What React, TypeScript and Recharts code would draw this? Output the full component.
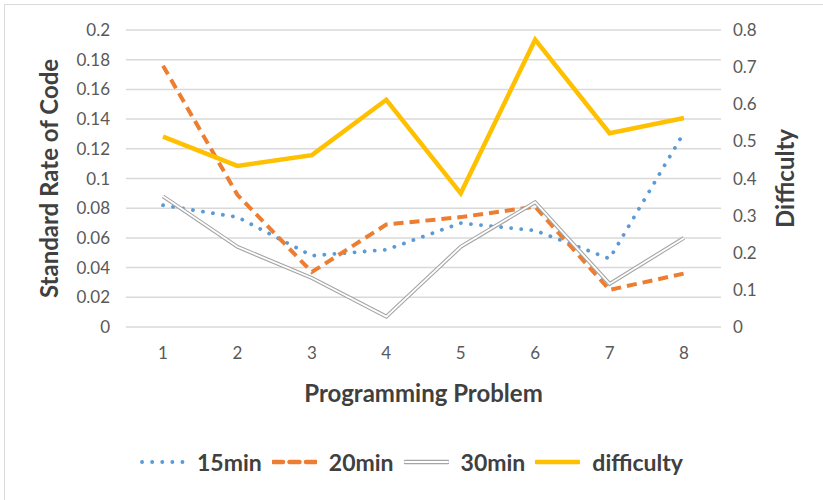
import React from "react";
import { LineChart, Line, XAxis, YAxis, CartesianGrid } from "recharts";

const problems = ["1", "2", "3", "4", "5", "6", "7", "8"];
const rate15 = [0.082, 0.074, 0.048, 0.052, 0.07, 0.065, 0.046, 0.131];
const rate20 = [0.176, 0.089, 0.037, 0.069, 0.074, 0.081, 0.025, 0.036];
const rate30 = [0.088, 0.054, 0.033, 0.007, 0.054, 0.084, 0.029, 0.06];
const difficulty = [0.513, 0.434, 0.463, 0.612, 0.36, 0.774, 0.522, 0.563];

const leftTicks = [0, 0.02, 0.04, 0.06, 0.08, 0.1, 0.12, 0.14, 0.16, 0.18, 0.2];
const rightTicks = [0, 0.1, 0.2, 0.3, 0.4, 0.5, 0.6, 0.7, 0.8];

const seriesNames = ["15min", "20min", "30min", "difficulty"];

const data = problems.map((p, i) => ({
  problem: p,
  r15: rate15[i],
  r20: rate20[i],
  r30: rate30[i],
  diff: difficulty[i],
}));

const FONT = "Lato, 'Open Sans', sans-serif";
const TICK = { fill: "#595959", fontSize: 17, fontFamily: FONT };
const TITLE_COLOR = "#404040";

const BLUE = "#5B9BD5";
const ORANGE = "#ED7D31";
const GRAY = "#A5A5A5";
const YELLOW = "#FFC000";

function LegendIcon({ idx }: { idx: number }) {
  const common = { x1: 2, x2: 43, y1: 7, y2: 7 };
  return (
    <svg width={45} height={14} style={{ display: "block" }}>
      {idx === 0 && (
        <line {...common} stroke={BLUE} strokeWidth={3.8} strokeDasharray="0.1 10" strokeLinecap="round" />
      )}
      {idx === 1 && (
        <line x1={1} x2={44} y1={7} y2={7} stroke={ORANGE} strokeWidth={4.5} strokeDasharray="10 6.5" strokeLinecap="round" />
      )}
      {idx === 2 && (
        <g>
          <line x1={1} x2={44} y1={7} y2={7} stroke={GRAY} strokeWidth={4.5} strokeLinecap="round" />
          <line x1={1} x2={44} y1={7} y2={7} stroke="#fff" strokeWidth={2} strokeLinecap="round" />
        </g>
      )}
      {idx === 3 && <line x1={1} x2={44} y1={7} y2={7} stroke={YELLOW} strokeWidth={4.5} strokeLinecap="round" />}
    </svg>
  );
}

export default function App() {
  return (
    <div
      style={{
        position: "absolute",
        left: 0,
        top: 0,
        width: 823,
        height: 500,
        background: "#fff",
        overflow: "hidden",
        fontFamily: FONT,
      }}
    >
      <div
        style={{
          position: "absolute",
          left: 4,
          top: 4,
          width: 819,
          height: 496,
          borderTop: "1.5px solid #D9D9D9",
          borderLeft: "1.5px solid #D9D9D9",
          boxSizing: "border-box",
        }}
      />
      <div style={{ position: "absolute", left: 0, top: 0 }}>
        <LineChart width={823} height={500} data={data} margin={{ top: 30, right: 32, bottom: 123, left: 46 }}>
          <CartesianGrid vertical={false} stroke="#D9D9D9" strokeWidth={1.5} yAxisId="left" />
          <XAxis
            dataKey="problem"
            axisLine={false}
            tickLine={false}
            tickSize={0}
            tickMargin={20}
            height={50}
            padding={{ left: 37, right: 37 }}
            tick={TICK}
            label={{
              content: (props: any) => {
                const vb = props.viewBox || {};
                return (
                  <text
                    x={vb.x + vb.width / 2}
                    y={vb.y + 75}
                    textAnchor="middle"
                    fill={TITLE_COLOR}
                    fontSize={24}
                    fontWeight={700}
                    fontFamily={FONT}
                  >
                    Programming Problem
                  </text>
                );
              },
            }}
          />
          <YAxis
            yAxisId="left"
            orientation="left"
            width={80}
            domain={[0, 0.2]}
            ticks={leftTicks}
            interval={0}
            axisLine={false}
            tickLine={false}
            tickSize={0}
            tickMargin={16}
            tick={TICK}
            label={{
              content: (props: any) => {
                const vb = props.viewBox || {};
                const cy = vb.y + vb.height / 2;
                return (
                  <text
                    x={58}
                    y={cy}
                    transform={`rotate(-90, 58, ${cy})`}
                    textAnchor="middle"
                    fill={TITLE_COLOR}
                    fontSize={24}
                    fontWeight={700}
                    fontFamily={FONT}
                  >
                    Standard Rate of Code
                  </text>
                );
              },
            }}
          />
          <YAxis
            yAxisId="right"
            orientation="right"
            width={70}
            domain={[0, 0.8]}
            ticks={rightTicks}
            interval={0}
            axisLine={false}
            tickLine={false}
            tickSize={0}
            tickMargin={12}
            tick={TICK}
            label={{
              content: (props: any) => {
                const vb = props.viewBox || {};
                const cy = vb.y + vb.height / 2;
                return (
                  <text
                    x={794}
                    y={cy}
                    transform={`rotate(-90, 794, ${cy})`}
                    textAnchor="middle"
                    fill={TITLE_COLOR}
                    fontSize={24}
                    fontWeight={700}
                    fontFamily={FONT}
                  >
                    Difficulty
                  </text>
                );
              },
            }}
          />
          <Line
            yAxisId="left"
            dataKey="r15"
            name={seriesNames[0]}
            stroke={BLUE}
            strokeWidth={3.8}
            strokeDasharray="0.1 10"
            strokeLinecap="round"
            dot={false}
            activeDot={false}
            isAnimationActive={false}
          />
          <Line
            yAxisId="left"
            dataKey="r20"
            name={seriesNames[1]}
            stroke={ORANGE}
            strokeWidth={4}
            strokeDasharray="10 6"
            dot={false}
            activeDot={false}
            isAnimationActive={false}
          />
          <Line
            yAxisId="left"
            dataKey="r30"
            name={seriesNames[2]}
            stroke={GRAY}
            strokeWidth={4}
            dot={false}
            activeDot={false}
            isAnimationActive={false}
          />
          <Line
            yAxisId="left"
            dataKey="r30"
            name={seriesNames[2] + "-inner"}
            stroke="#ffffff"
            strokeWidth={1.8}
            dot={false}
            activeDot={false}
            isAnimationActive={false}
          />
          <Line
            yAxisId="right"
            dataKey="diff"
            name={seriesNames[3]}
            stroke={YELLOW}
            strokeWidth={4.5}
            dot={false}
            activeDot={false}
            isAnimationActive={false}
          />
        </LineChart>
      </div>
      <div
        style={{
          position: "absolute",
          left: 0,
          top: 449,
          width: 823,
          height: 26,
          display: "flex",
          alignItems: "center",
          justifyContent: "center",
        }}
      >
        {seriesNames.map((n, i) => (
          <div key={n} style={{ display: "flex", alignItems: "center" }}>
            <LegendIcon idx={i} />
            <span
              style={{
                marginLeft: 12,
                marginRight: i < seriesNames.length - 1 ? 10 : 0,
                fontSize: 23,
                fontWeight: 700,
                color: TITLE_COLOR,
                lineHeight: "26px",
              }}
            >
              {n}
            </span>
          </div>
        ))}
      </div>
    </div>
  );
}
